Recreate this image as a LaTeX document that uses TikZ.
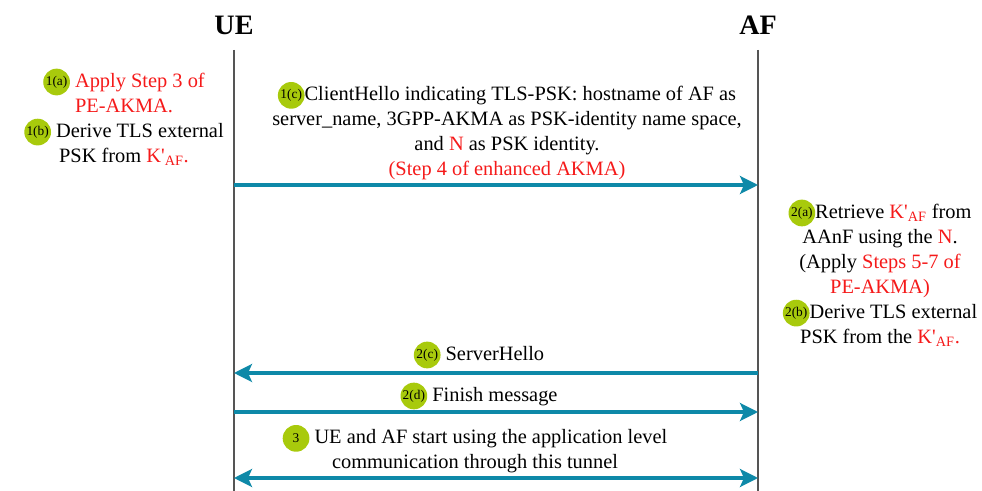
\documentclass[tikz,border=0pt]{standalone}
\usepackage{fontspec}
\setmainfont{Liberation Serif}
\usetikzlibrary{arrows.meta}

\definecolor{msgblue}{HTML}{0E89A8}
\definecolor{badgegreen}{HTML}{A8CA0C}
\definecolor{akred}{HTML}{F51A1A}
\definecolor{lifegray}{HTML}{555555}

\tikzset{
  badge/.style={circle,fill=badgegreen,inner sep=0pt,minimum size=19pt,
    font=\fontsize{9.5}{9.5}\selectfont},
  lifeline/.style={lifegray,line width=1.5pt},
  msg/.style={msgblue,line width=2.2pt,
    -{Stealth[length=0.45cm,width=0.45cm,inset=0.1cm]}},
  both/.style={msgblue,line width=2.2pt,
    {Stealth[length=0.45cm,width=0.45cm,inset=0.1cm]}-{Stealth[length=0.45cm,width=0.45cm,inset=0.1cm]}},
  entity/.style={font=\fontsize{20}{24}\selectfont\bfseries},
  note/.style={align=center,font=\fontsize{14.5}{17.8}\selectfont}
}
\newcommand{\stepbadge}[1]{\tikz[baseline=-1.3mm]\node[badge]{#1};}
\newcommand{\kaf}{K\textquotesingle\textsubscript{AF}}

\begin{document}
\begin{tikzpicture}[x=0.025cm,y=-0.025cm]
		\useasboundingbox (0,0) rectangle (982,491);

		% Entities and lifelines
		\node[entity] (ue) at (234,25) {UE};
		\node[entity] (af) at (758,25) {AF};
		\coordinate (ue-top) at (234,50);
		\coordinate (ue-bot) at (234,491);
		\coordinate (af-top) at (758,50);
		\coordinate (af-bot) at (758,491);
		\draw[lifeline] (ue-top) -- (ue-bot);
		\draw[lifeline] (af-top) -- (af-bot);

		% Message end points
		\foreach \n/\y in {hello/185, server/373, finish/412, tunnel/478} {
			\coordinate (ue-\n) at (234,\y);
			\coordinate (af-\n) at (758,\y);
		}

		% Step 1
		\node[note] (step1) at (124,117) {\stepbadge{1(a)} \textcolor{akred}{Apply Step 3 of}\\
			\textcolor{akred}{PE-AKMA.}\\
			\stepbadge{1(b)} Derive TLS external\\
			PSK from \textcolor{akred}{\kaf.}};
		\node[note] (hello) at (507,131) {\stepbadge{1(c)}ClientHello indicating TLS-PSK: hostname of AF as\\
			server\_name, 3GPP-AKMA as PSK-identity name space,\\
			and \textcolor{akred}{N} as PSK identity.\\
			\textcolor{akred}{(Step 4 of enhanced AKMA)}};
		\draw[msg] (ue-hello) -- (af-hello);

		% Step 2
		\node[note] (step2) at (880,273) {\stepbadge{2(a)}Retrieve \textcolor{akred}{\kaf} from\\
			AAnF using the \textcolor{akred}{N}.\\
			(Apply \textcolor{akred}{Steps 5-7 of}\\
			\textcolor{akred}{PE-AKMA)}\\
			\stepbadge{2(b)}Derive TLS external\\
			PSK from the \textcolor{akred}{\kaf.}};
		\node[note] (server) at (479,355) {\stepbadge{2(c)} ServerHello};
		\draw[msg] (af-server) -- (ue-server);
		\node[note] (finish) at (479,396) {\stepbadge{2(d)} Finish message};
		\draw[msg] (ue-finish) -- (af-finish);

		% Step 3
		\node[note] (tunnel) at (475,449) {\stepbadge{3} UE and AF start using the application level\\
			communication through this tunnel};
		\draw[both] (ue-tunnel) -- (af-tunnel);
	\end{tikzpicture}
\end{document}
